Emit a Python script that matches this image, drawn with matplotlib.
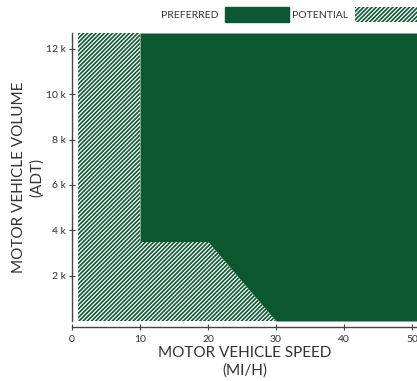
import matplotlib
matplotlib.use("Agg")
import matplotlib.pyplot as plt
from matplotlib.patches import Patch

# data
x_ticks = [0, 10, 20, 30, 40, 50]
y_ticks = [2000, 4000, 6000, 8000, 10000, 12000]
y_tick_labels = ["2 k", "4 k", "6 k", "8 k", "10 k", "12 k"]

x_max = 50.75
y_max = 12700

# preferred region: lower boundary of the green area
preferred_speed = [10, 10, 20, 30, x_max]
preferred_volume = [y_max, 3500, 3500, 0, 0]

# potential (hatched) region: upper boundary
potential_speed = [0.9, 10, 10, 20, 30]
potential_volume = [y_max, y_max, 3500, 3500, 0]

GREEN = "#0b5730"
TEXT = "#333333"

plt.rcParams["font.family"] = ["Lato", "DejaVu Sans"]
plt.rcParams["hatch.linewidth"] = 1.2

fig = plt.figure(figsize=(4.17, 3.81), dpi=100)
ax = fig.add_axes([72 / 417, 60 / 381, 1 - 72 / 417, 288 / 381])

ax.fill_between(potential_speed, 0, potential_volume, facecolor="white",
                edgecolor=GREEN, hatch="////////", linewidth=0)
ax.fill_between(preferred_speed, preferred_volume, y_max, facecolor=GREEN,
                edgecolor=GREEN, linewidth=0)

ax.set_xlim(0, x_max)
ax.set_ylim(0, y_max)
ax.set_xticks(x_ticks)
ax.set_yticks(y_ticks)
ax.set_yticklabels(y_tick_labels)

for s in ["top", "right"]:
    ax.spines[s].set_visible(False)
ax.spines["bottom"].set_position(("outward", 4.3))
for s in ["bottom", "left"]:
    ax.spines[s].set_color("#444444")
    ax.spines[s].set_linewidth(1.0)

ax.tick_params(direction="inout", length=5, width=0.8, color="#444444",
               labelsize=7.5, labelcolor=TEXT, pad=2)
ax.tick_params(axis="x", pad=3.5)

ax.set_xlabel("MOTOR VEHICLE SPEED\n(MI/H)", fontsize=11, color=TEXT,
              labelpad=1, linespacing=1.35)
ax.set_ylabel("MOTOR VEHICLE VOLUME\n(ADT)", fontsize=11, color=TEXT,
              labelpad=1, linespacing=1.35)

handles = [Patch(facecolor=GREEN, edgecolor=GREEN, label="PREFERRED"),
           Patch(facecolor="white", edgecolor=GREEN, hatch="////////",
                 linewidth=0, label="POTENTIAL")]
fig.legend(handles=handles, loc="upper right", bbox_to_anchor=(1.017, 0.995),
           ncol=2, frameon=False, markerfirst=False, fontsize=7.5,
           handlelength=6.2, handleheight=1.9, columnspacing=0.3,
           handletextpad=0.6, borderaxespad=0.0, borderpad=0.45,
           labelcolor=TEXT)

fig.savefig("out.png", dpi=100)
